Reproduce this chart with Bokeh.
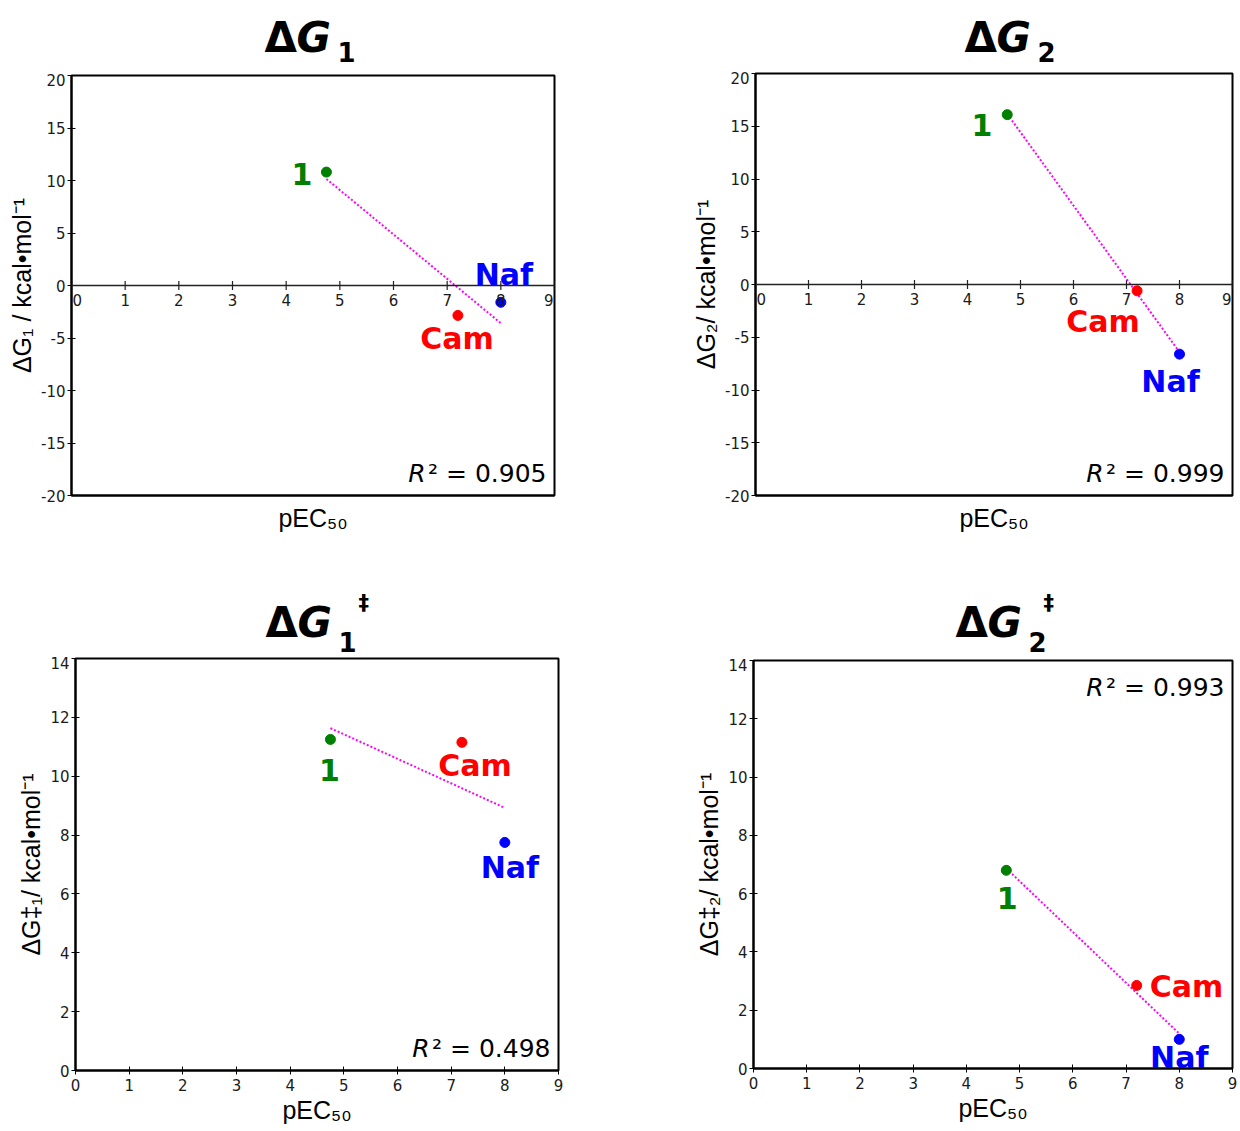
import numpy as np
from bokeh.plotting import figure
from bokeh.layouts import row, column
from bokeh.models import Label, Span, FixedTicker, ColumnDataSource
from bokeh.core.properties import value
from bokeh.embed import file_html
from bokeh.resources import INLINE

# ---------------- data ----------------
compounds = ["1", "Cam", "Naf"]
pec50 = [4.75, 7.2, 8.0]
dG1 = [10.8, -2.85, -1.6]
dG2 = [16.1, -0.6, -6.6]
dG1_ts = [11.25, 11.15, 7.75]
dG2_ts = [6.8, 2.85, 1.0]
r2_texts = ["0.905", "0.999", "0.498", "0.993"]
x_ticks = [0, 1, 2, 3, 4, 5, 6, 7, 8, 9]
y_ticks_free = [-20, -15, -10, -5, 0, 5, 10, 15, 20]
y_ticks_ts = [0, 2, 4, 6, 8, 10, 12, 14]
x_label = "pEC₅₀"
y_labels = ["ΔG₁ / kcal•mol⁻¹", "ΔG₂/ kcal•mol⁻¹", "ΔG‡₁/ kcal•mol⁻¹", "ΔG‡₂/ kcal•mol⁻¹"]
title_subs = ["1", "2", "1", "2"]

# ---------------- styles ----------------
point_colors = ["#008000", "#ff0000", "#0000ff"]
TICK_FONT = "DejaVu Sans"
LABEL_FONT = "Liberation Sans"
TICK_COLOR = "#1a1a1a"
LBL_SHIFT = 12   # baseline compensation for 30px labels
R2_SHIFT = 10    # baseline compensation for 25px labels

panels = [
    dict(y=dG1, yr=(-20, 20), yt=y_ticks_free, zero_axis=True, r2_top=False,
         width=620, height=487, mbl=71, mbr=66, mbt=2, mbb=65,
         title=dict(h=73, x=264, y=20, sub_y=12, dagger=None),
         labels=[("right", -14, -14), ("center", -1, -35), ("center", 3, 16)]),
    dict(y=dG2, yr=(-20, 20), yt=y_ticks_free, zero_axis=True, r2_top=False,
         width=620, height=489, mbl=135, mbr=8, mbt=2, mbb=65,
         title=dict(h=71, x=344, y=18, sub_y=10, dagger=None),
         labels=[("right", -15, -22), ("center", -34, -43), ("center", -9, -39)]),
    dict(y=dG1_ts, yr=(0, 14), yt=y_ticks_ts, zero_axis=False, r2_top=False,
         width=620, height=474, mbl=75, mbr=62, mbt=2, mbb=60,
         title=dict(h=96, x=265, y=18, sub_y=5, dagger=(358, 46)),
         labels=[("center", -1, -43), ("center", 13, -35), ("center", 5, -37)]),
    dict(y=dG2_ts, yr=(0, 14), yt=y_ticks_ts, zero_axis=False, r2_top=True,
         width=620, height=472, mbl=133, mbr=8, mbt=2, mbb=62,
         title=dict(h=98, x=335, y=20, sub_y=7, dagger=(423, 48)),
         labels=[("center", 1, -40), ("left", 13, -13), ("center", 0, -30)]),
]


def make_title(i, cfg):
    tc = cfg["title"]
    w, h = cfg["width"], tc["h"]
    # frame of this figure is aligned with the plot frame below it,
    # so the x range is expressed in the figure's own pixel coordinates
    t = figure(width=w, height=h, x_range=(cfg["mbl"], w - cfg["mbr"]),
               y_range=(0, h), x_axis_type=None, y_axis_type=None,
               min_border=0, output_backend="svg", toolbar_location=None)
    t.grid.visible = False
    t.outline_line_color = None
    t.background_fill_color = "white"
    t.border_fill_color = "white"
    common = dict(text_align="left", text_baseline="alphabetic",
                  text_font=value(TICK_FONT), text_color="black")
    t.text(x=[tc["x"]], y=[tc["y"] + 16], text=["Δ"], text_font_style="bold",
           text_font_size="42px", **common)
    t.text(x=[tc["x"] + 32], y=[tc["y"] + 16], text=["G"],
           text_font_style="bold italic", text_font_size="42px", **common)
    t.text(x=[tc["x"] + 73], y=[tc["sub_y"] + 10], text=[title_subs[i]],
           text_font_style="bold", text_font_size="26px", **common)
    if tc["dagger"] is not None:
        dx, dy = tc["dagger"]
        t.text(x=[dx], y=[dy + 8], text=["‡"], text_font_style="bold",
               text_font_size="21px", **common)
    return t


def make_panel(i, cfg):
    x_lo, x_hi = x_ticks[0], x_ticks[-1]
    y_lo, y_hi = cfg["yr"]
    p = figure(width=cfg["width"], height=cfg["height"],
               x_range=(x_lo, x_hi), y_range=(y_lo, y_hi),
               output_backend="svg", toolbar_location=None,
               min_border_left=cfg["mbl"], min_border_right=cfg["mbr"],
               min_border_top=cfg["mbt"], min_border_bottom=cfg["mbb"])
    p.grid.visible = False
    p.outline_line_color = "black"
    p.outline_line_width = 2
    p.outline_line_alpha = 1.0
    p.background_fill_color = "white"
    p.border_fill_color = "white"

    ya = p.yaxis[0]
    ya.ticker = FixedTicker(ticks=cfg["yt"])
    ya.major_label_overrides = {v: str(v) for v in cfg["yt"]}
    ya.minor_tick_line_color = None
    ya.major_tick_in = 4
    ya.major_tick_out = 4
    ya.major_label_standoff = 2
    ya.axis_line_color = "black"
    ya.axis_line_width = 2
    ya.major_label_text_font = TICK_FONT
    ya.major_label_text_font_size = "15px"
    ya.major_label_text_color = TICK_COLOR
    ya.axis_label = y_labels[i]
    ya.axis_label_text_font = LABEL_FONT
    ya.axis_label_text_font_style = "normal"
    ya.axis_label_text_font_size = "25px"
    ya.axis_label_text_color = "black"
    ya.axis_label_standoff = 2

    xa = p.xaxis[0]
    xa.minor_tick_line_color = None
    xa.axis_line_color = "black"
    xa.axis_line_width = 2
    xa.axis_label = x_label
    xa.axis_label_text_font = LABEL_FONT
    xa.axis_label_text_font_style = "normal"
    xa.axis_label_text_font_size = "25px"
    xa.axis_label_text_color = "black"
    if cfg["zero_axis"]:
        xa.ticker = FixedTicker(ticks=[])
        xa.major_tick_out = 0
        xa.major_tick_in = 0
        xa.major_label_standoff = 0
        xa.axis_label_standoff = 8
        # horizontal axis drawn through y = 0
        p.add_layout(Span(location=0, dimension="width", line_color="#222222",
                          line_width=1.5))
        p.scatter(x=x_ticks, y=[0] * len(x_ticks), marker="dash", size=9,
                  angle=np.pi / 2, line_color="#222222", line_width=1.2)
        for t in x_ticks:
            if t == x_ticks[0]:
                al, off = "left", 1
            elif t == x_ticks[-1]:
                al, off = "right", -1
            else:
                al, off = "center", 0
            p.add_layout(Label(x=t, y=0, text=str(t), x_offset=off, y_offset=-8,
                               text_align=al, text_baseline="top",
                               text_font=TICK_FONT, text_font_size="15px",
                               text_color=TICK_COLOR))
    else:
        xa.ticker = FixedTicker(ticks=x_ticks)
        xa.major_tick_in = 4
        xa.major_tick_out = 4
        xa.major_label_standoff = 4
        xa.major_label_text_font = TICK_FONT
        xa.major_label_text_font_size = "15px"
        xa.major_label_text_color = TICK_COLOR
        xa.axis_label_standoff = 2

    # linear regression (dotted magenta)
    slope, icpt = np.polyfit(pec50, cfg["y"], 1)
    xf = np.array([min(pec50), max(pec50)])
    p.line(xf, slope * xf + icpt, line_color="#ff00ff", line_width=2,
           line_dash="2 2")

    src = ColumnDataSource(dict(x=pec50, y=cfg["y"], c=point_colors))
    p.scatter("x", "y", source=src, size=10, fill_color="c", line_color="c")

    for k, name in enumerate(compounds):
        align, dx, dy = cfg["labels"][k]
        p.add_layout(Label(x=pec50[k], y=cfg["y"][k], text=name,
                           x_offset=dx, y_offset=dy + LBL_SHIFT, text_align=align,
                           text_baseline="alphabetic", text_font=TICK_FONT,
                           text_font_style="bold", text_font_size="30px",
                           text_color=point_colors[k]))

    if cfg["r2_top"]:
        ry, rdy = y_hi, -37
    else:
        ry, rdy = y_lo, 12
    rdy += R2_SHIFT
    p.add_layout(Label(x=x_hi, y=ry, text="² = " + r2_texts[i], x_offset=-8,
                       y_offset=rdy, text_align="right",
                       text_baseline="alphabetic", text_font=TICK_FONT,
                       text_font_size="25px", text_color="black"))
    p.add_layout(Label(x=x_hi, y=ry, text="R", x_offset=-129,
                       y_offset=rdy, text_align="right",
                       text_baseline="alphabetic", text_font=TICK_FONT,
                       text_font_style="italic", text_font_size="25px",
                       text_color="black"))
    return p


cols = [column(make_title(i, c), make_panel(i, c)) for i, c in enumerate(panels)]
layout = column(row(cols[0], cols[1]), row(cols[2], cols[3]))

open("out.html", "w").write(file_html(layout, INLINE))
